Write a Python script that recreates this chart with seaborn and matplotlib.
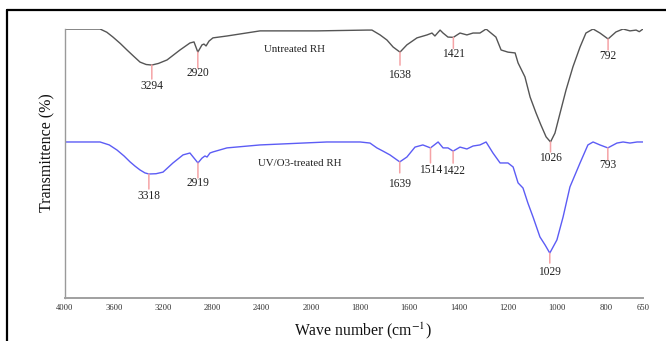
import numpy as np
import pandas as pd
import matplotlib
matplotlib.use("Agg")
import matplotlib.pyplot as plt
from matplotlib.lines import Line2D
import seaborn as sns

# ---------------- data ----------------
untreated_wn = [4000, 3715, 3660, 3610, 3550, 3496, 3440, 3390, 3340, 3294, 3240,
                3170, 3065, 2984, 2951, 2920,
                2886, 2870, 2853, 2829, 2797, 2683, 2414, 1975, 1772, 1752, 1719,
                1691, 1666, 1638, 1610, 1569, 1528, 1508, 1496, 1475, 1463, 1443,
                1421, 1394, 1366, 1341, 1313, 1288, 1248, 1227, 1199, 1170, 1158,
                1130, 1109, 1085, 1065, 1044, 1026, 1008, 987, 963, 935, 906, 882,
                853, 825, 792, 760, 731, 703, 678, 665, 650]
untreated_t = [100, 100, 98.8, 97.0, 94.6, 92.2, 89.8, 87.7, 86.8, 86.6, 87.2,
               88.5, 92.2, 94.8, 95.2, 91.4,
               94.1, 94.4, 93.7, 95.5, 96.7, 97.4, 99.3, 99.3, 99.6, 99.6, 97.8,
               95.9, 93.3, 91.4, 94.1, 96.7, 97.8, 98.5, 97.4, 99.6, 98.5, 97.0,
               96.9, 98.5, 97.8, 98.5, 98.5, 100, 97.0, 92.2, 91.4, 91.1, 87.4,
               82.2, 74.7, 68.8, 64.3, 59.9, 58.0, 61.3, 68.8, 77.3, 85.9, 93.3, 98.5,
               100, 98.5, 96.3, 98.9, 100, 99.3, 99.6, 99.0, 100]

treated_wn = [4000, 3715, 3640, 3577, 3520, 3471, 3430, 3390, 3350, 3318, 3260,
              3203, 3122, 3040, 2984, 2919,
              2886, 2862, 2845, 2821, 2797, 2683, 2414, 1935, 1800, 1760, 1732,
              1707, 1679, 1639, 1610, 1577, 1545, 1514, 1483, 1463, 1443, 1422,
              1394, 1366, 1341, 1313, 1288, 1260, 1231, 1199, 1178, 1158, 1138,
              1118, 1097, 1069, 1048, 1029, 1000, 975, 947, 906, 874, 853, 825,
              793, 756, 731, 703, 674, 650]
treated_t = [58.0, 58.0, 56.9, 55.0, 52.8, 50.6, 49.0, 47.6, 46.5, 46.1, 46.2,
             46.8, 50.2, 53.2, 53.9, 50.2,
             52.0, 52.8, 52.4, 53.9, 54.3, 55.8, 56.9, 58.0, 58.0, 57.6, 55.8,
             54.6, 53.2, 50.6, 52.4, 56.1, 56.9, 55.8, 58.0, 55.8, 55.8, 54.6,
             56.1, 55.4, 56.5, 56.9, 58.0, 53.9, 50.2, 50.2, 48.7, 42.8, 40.9,
             35.3, 30.1, 22.7, 19.7, 16.7, 21.6, 30.1, 41.3, 50.2, 56.9, 58.0, 56.9,
             55.8, 57.6, 58.0, 57.6, 58.0, 58.0]

untreated_peaks = [3294, 2920, 1638, 1421, 1026, 792]
treated_peaks = [3318, 2919, 1639, 1514, 1422, 1029, 793]

x_ticks = [4000, 3600, 3200, 2800, 2400, 2000, 1800, 1600, 1400, 1200, 1000, 800, 650]
series_names = ["Untreated RH", "UV/O3-treated RH"]

# ---------------- layout / style ----------------
# per-peak marker line length and label drop (pixels below the minimum)
untreated_line = [14, 16, 13, 11, 10, 11]
untreated_drop = [21, 21, 23, 17, 16, 17]
treated_line = [15, 15, 11, 15, 12, 10, 12]
treated_drop = [22, 20, 22, 22, 20, 19, 17]

W, H, DPI = 666, 341, 100
sns.set_style("white")
plt.rcParams['font.family'] = ['Liberation Serif', 'DejaVu Serif']
plt.rcParams['mathtext.fontset'] = 'stix'

fig = plt.figure(figsize=(W / DPI, H / DPI), dpi=DPI)
ax_left, ax_right, ax_top, ax_bottom = 65, 643, 29, 298
ax = fig.add_axes([ax_left / W, 1 - ax_bottom / H,
                   (ax_right - ax_left) / W, (ax_bottom - ax_top) / H])


def fwd(x):
    x = np.asarray(x, dtype=float)
    return np.where(x >= 2000, x, 2 * x - 2000)


def inv(y):
    y = np.asarray(y, dtype=float)
    return np.where(y >= 2000, y, (y + 2000) / 2)


ax.set_xscale('function', functions=(fwd, inv))

df_u = pd.DataFrame({"wn": untreated_wn, "T": untreated_t})
df_t = pd.DataFrame({"wn": treated_wn, "T": treated_t})
sns.lineplot(data=df_u, x="wn", y="T", sort=False, ax=ax, color="#555555", lw=1.0)
sns.lineplot(data=df_t, x="wn", y="T", sort=False, ax=ax, color="#5c5cf5", lw=1.0)
ax.set_xlabel("")
ax.set_ylabel("")

ax.set_xlim(4000, 650)
ax.set_ylim(0, 100)

pink = "#f5a3a6"


def annotate(peaks, wn, t, lines, drops):
    order = np.argsort(wn)
    xs = np.array(wn)[order]
    ys = np.array(t)[order]
    for p, L, D in zip(peaks, lines, drops):
        v = float(np.interp(p, xs, ys))
        ax.annotate("", xy=(p, v), xytext=(0, -L), textcoords="offset pixels",
                    arrowprops=dict(arrowstyle="-", color=pink, lw=1.1,
                                    shrinkA=0, shrinkB=0))
        ax.annotate(str(p), xy=(p, v), xytext=(0, -D), textcoords="offset pixels",
                    ha="center", va="center", fontsize=8.3, color="#222222")


annotate(untreated_peaks, untreated_wn, untreated_t, untreated_line, untreated_drop)
annotate(treated_peaks, treated_wn, treated_t, treated_line, treated_drop)

ax.text(294 / W, 1 - 49 / H, series_names[0], transform=fig.transFigure,
        ha="center", va="center", fontsize=7.8, color="#222222")
ax.text(300 / W, 1 - 164 / H, series_names[1], transform=fig.transFigure,
        ha="center", va="center", fontsize=7.8, color="#222222")

# axes styling
for s in ["top", "right"]:
    ax.spines[s].set_visible(False)
ax.spines["left"].set_color("#9a9a9a")
ax.spines["left"].set_linewidth(1.0)
ax.spines["bottom"].set_color("#a0a0a0")
ax.spines["bottom"].set_linewidth(1.4)

ax.set_xticks(x_ticks)
ax.set_xticklabels([str(v) for v in x_ticks])
ax.xaxis.set_minor_locator(matplotlib.ticker.NullLocator())
ax.tick_params(axis="x", length=2, width=0.8, color="#888888", direction="inout",
               labelsize=6.2, labelcolor="#333333", pad=3)
ax.set_yticks(np.arange(0, 101, 5))
ax.set_yticklabels([])
ax.tick_params(axis="y", length=2.5, width=0.7, color="#999999", direction="out")

fig.text(47 / W, 1 - 153 / H, "Transmittence (%)", rotation=90, ha="center",
         va="center", fontsize=11.5, color="#111111")
fig.text(363 / W, 1 - 331 / H, "Wave number (cm$^{-1}$)", ha="center",
         va="center", fontsize=11.3, color="#111111")

# outer frame (top and left edges visible)
fig.add_artist(Line2D([7 / W, 1.0], [1 - 10 / H, 1 - 10 / H],
                      transform=fig.transFigure, color="black", lw=1.6))
fig.add_artist(Line2D([7 / W, 7 / W], [0.0, 1 - 10 / H],
                      transform=fig.transFigure, color="black", lw=1.6))

fig.savefig("out.png", dpi=DPI)
